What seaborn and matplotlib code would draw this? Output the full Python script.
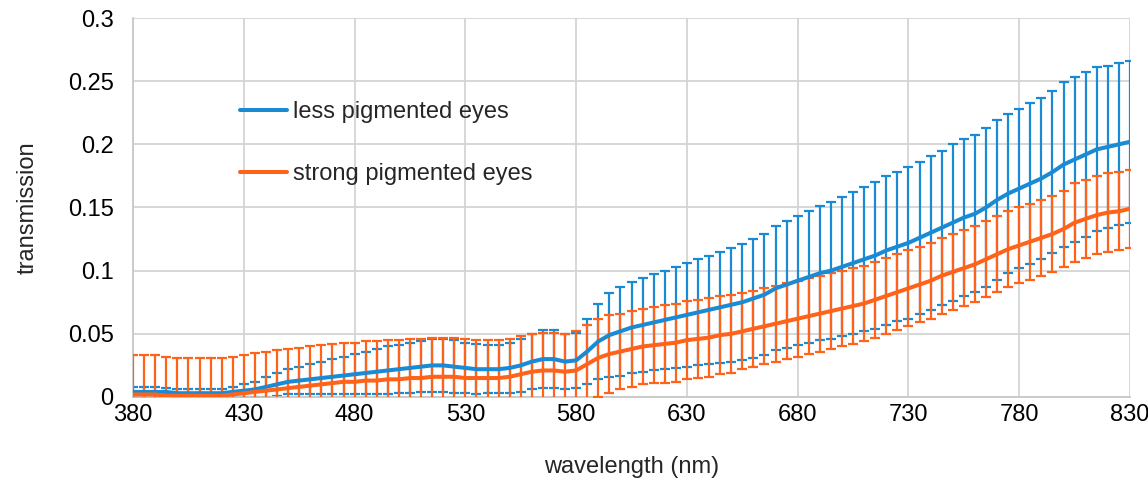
import numpy as np
import pandas as pd
import matplotlib
matplotlib.use("Agg")
import matplotlib.pyplot as plt
from matplotlib.ticker import FuncFormatter, MultipleLocator
import seaborn as sns

# wavelength grid (nm), one reading every 5 nm
wavelength = list(range(380, 835, 5))
x_ticks = [380, 430, 480, 530, 580, 630, 680, 730, 780, 830]

less_mean = [
    0.004, 0.004, 0.004, 0.004, 0.003, 0.003, 0.003, 0.003, 0.003, 0.004,
    0.005, 0.006, 0.008, 0.010, 0.012, 0.013, 0.014, 0.015, 0.016, 0.017,
    0.018, 0.019, 0.020, 0.021, 0.022, 0.023, 0.024, 0.025, 0.025, 0.024,
    0.023, 0.022, 0.022, 0.022, 0.023, 0.025, 0.028, 0.030, 0.030, 0.028,
    0.029, 0.036, 0.044, 0.049, 0.052, 0.055, 0.057, 0.059, 0.061, 0.063,
    0.065, 0.067, 0.069, 0.071, 0.073, 0.075, 0.078, 0.081, 0.086, 0.089,
    0.092, 0.095, 0.098, 0.100, 0.103, 0.106, 0.109, 0.112, 0.116, 0.119,
    0.122, 0.126, 0.130, 0.134, 0.138, 0.142, 0.145, 0.150, 0.156, 0.161,
    0.165, 0.169, 0.173, 0.178, 0.184, 0.188, 0.192, 0.196, 0.198, 0.200,
    0.202,
]
less_err = [
    0.004, 0.004, 0.004, 0.003, 0.003, 0.003, 0.003, 0.003, 0.003, 0.004,
    0.005, 0.006, 0.008, 0.009, 0.010, 0.011, 0.012, 0.013, 0.014, 0.015,
    0.016, 0.017, 0.018, 0.019, 0.019, 0.020, 0.020, 0.021, 0.021, 0.021,
    0.020, 0.020, 0.019, 0.019, 0.020, 0.021, 0.022, 0.023, 0.023, 0.022,
    0.022, 0.026, 0.030, 0.033, 0.035, 0.036, 0.037, 0.038, 0.039, 0.040,
    0.041, 0.042, 0.043, 0.044, 0.045, 0.046, 0.047, 0.048, 0.049, 0.050,
    0.051, 0.052, 0.053, 0.054, 0.055, 0.056, 0.057, 0.058, 0.059, 0.059,
    0.060, 0.060, 0.061, 0.061, 0.062, 0.062, 0.062, 0.063, 0.063, 0.063,
    0.063, 0.064, 0.064, 0.064, 0.065, 0.065, 0.065, 0.065, 0.064, 0.064,
    0.064,
]
strong_mean = [
    0.002, 0.002, 0.002, 0.001, 0.001, 0.001, 0.001, 0.001, 0.001, 0.002,
    0.003, 0.004, 0.005, 0.006, 0.007, 0.008, 0.009, 0.010, 0.011, 0.012,
    0.012, 0.013, 0.013, 0.014, 0.014, 0.015, 0.015, 0.016, 0.016, 0.016,
    0.015, 0.015, 0.015, 0.015, 0.016, 0.018, 0.020, 0.021, 0.021, 0.020,
    0.021, 0.026, 0.031, 0.034, 0.036, 0.038, 0.040, 0.041, 0.042, 0.043,
    0.045, 0.046, 0.047, 0.049, 0.050, 0.052, 0.054, 0.056, 0.058, 0.060,
    0.062, 0.064, 0.066, 0.068, 0.070, 0.072, 0.074, 0.077, 0.080, 0.083,
    0.086, 0.089, 0.092, 0.096, 0.099, 0.102, 0.105, 0.109, 0.113, 0.117,
    0.120, 0.123, 0.126, 0.129, 0.133, 0.138, 0.141, 0.144, 0.146, 0.147,
    0.149,
]
strong_err = [
    0.031, 0.031, 0.031, 0.031, 0.030, 0.030, 0.030, 0.030, 0.030, 0.030,
    0.030, 0.031, 0.031, 0.031, 0.031, 0.031, 0.031, 0.031, 0.031, 0.031,
    0.031, 0.031, 0.031, 0.031, 0.031, 0.031, 0.031, 0.031, 0.031, 0.031,
    0.031, 0.030, 0.030, 0.030, 0.030, 0.030, 0.030, 0.030, 0.030, 0.030,
    0.031, 0.031, 0.031, 0.031, 0.030, 0.030, 0.030, 0.030, 0.031, 0.031,
    0.031, 0.031, 0.031, 0.031, 0.031, 0.030, 0.030, 0.030, 0.030, 0.030,
    0.030, 0.030, 0.030, 0.030, 0.030, 0.030, 0.030, 0.030, 0.030, 0.030,
    0.030, 0.030, 0.030, 0.030, 0.030, 0.030, 0.030, 0.030, 0.030, 0.030,
    0.030, 0.030, 0.030, 0.030, 0.030, 0.031, 0.031, 0.031, 0.031, 0.031,
    0.031,
]

labels = ["less pigmented eyes", "strong pigmented eyes"]
colors = ["#1a8ad4", "#ff6219"]

df = pd.DataFrame({
    "wavelength": wavelength * 2,
    "transmission": less_mean + strong_mean,
    "group": [labels[0]] * len(wavelength) + [labels[1]] * len(wavelength),
})

sns.set_style("white")
plt.rcParams["font.family"] = ["Liberation Sans", "DejaVu Sans"]

fig = plt.figure(figsize=(11.48, 4.88), dpi=100)
ax = fig.add_axes([0.1159, 0.1865, 0.8684, 0.7766])

# error bars first (blue under orange), then the mean lines on top
ax.errorbar(wavelength, less_mean, yerr=less_err, fmt="none",
            ecolor=colors[0], elinewidth=1.6, capsize=3.8, capthick=1.6, zorder=2)
ax.errorbar(wavelength, strong_mean, yerr=strong_err, fmt="none",
            ecolor=colors[1], elinewidth=1.6, capsize=3.8, capthick=1.6, zorder=3)

sns.lineplot(data=df, x="wavelength", y="transmission", hue="group",
             palette=colors, linewidth=2.9, ax=ax, zorder=4)

ax.set_xlim(380, 830)
ax.set_ylim(0, 0.3)
ax.set_xticks(x_ticks)
ax.yaxis.set_major_locator(MultipleLocator(0.05))
ax.yaxis.set_major_formatter(FuncFormatter(lambda v, p: f"{v:g}"))

ax.grid(True, color="#d4d4d4", linewidth=1.3)
ax.set_axisbelow(True)
for side in ["top", "right"]:
    ax.spines[side].set_visible(False)
for side in ["left", "bottom"]:
    ax.spines[side].set_color("#c8c8c8")
    ax.spines[side].set_linewidth(1.3)

ax.tick_params(axis="both", length=0, labelsize=17, colors="black")
ax.tick_params(axis="y", pad=14)
ax.tick_params(axis="x", pad=5)

ax.set_xlabel("wavelength (nm)", fontsize=17, labelpad=22)
ax.set_ylabel("transmission", fontsize=17, labelpad=21)

ax.legend(loc="upper left", bbox_to_anchor=(0.107, 0.78), frameon=False,
          fontsize=17, handlelength=2.0, handletextpad=0.25,
          labelspacing=1.68, borderpad=0, borderaxespad=0)

fig.savefig("out.png", dpi=100)
